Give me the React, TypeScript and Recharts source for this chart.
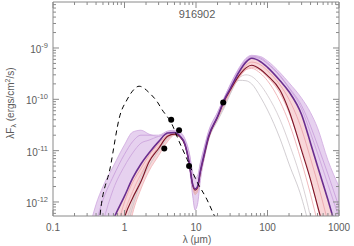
import { ComposedChart, Line, Area, Scatter, XAxis, YAxis } from "recharts"

// model wavelength grid (micron)
const lam = [0.3, 0.4, 0.5, 0.7, 1.0, 1.3, 1.7, 2.2, 3.0, 4.0, 5.0, 6.0, 7.0, 8.0, 9.0, 9.7, 10.5, 11.5, 13, 15, 20, 25, 30, 40, 50, 60, 80, 100, 150, 200, 300, 400, 500, 700, 1000]

// best fit model
const best = [1e-14, 3e-14, 1e-13, 4.5e-13, 1.3e-12, 2.9e-12, 5.5e-12, 9e-12, 1.5e-11, 2.2e-11, 2.25e-11, 1.9e-11, 1.35e-11, 6e-12, 2.2e-12, 1.8e-12, 2e-12, 4e-12, 8.5e-12, 1.9e-11, 4.6e-11, 1.0e-10, 1.6e-10, 3.4e-10, 5.3e-10, 6.3e-10, 5.4e-10, 4.2e-10, 2.3e-10, 1.4e-10, 5e-11, 1.4e-11, 5e-12, 1.1e-12, 2e-13]
const red = [1e-14, 1e-14, 1e-14, 5e-14, 5e-13, 1.2e-12, 2.5e-12, 6e-12, 1.1e-11, 1.9e-11, 2.1e-11, 1.85e-11, 1.3e-11, 5.8e-12, 2.1e-12, 1.7e-12, 1.9e-12, 3.8e-12, 8e-12, 1.8e-11, 4.5e-11, 9.5e-11, 1.5e-10, 2.9e-10, 4.1e-10, 4.6e-10, 3.8e-10, 2.9e-10, 1.5e-10, 6e-11, 1.0e-11, 2.7e-12, 8.5e-13, 1.5e-13, 2e-14]

// other fits
const up = [2e-13, 9e-13, 2e-12, 5e-12, 1.3e-11, 2.3e-11, 2.5e-11, 2.1e-11, 1.9e-11, 2.3e-11, 2.4e-11, 2.2e-11, 1.6e-11, 9e-12, 3.5e-12, 2.8e-12, 3e-12, 5.5e-12, 1.1e-11, 2.3e-11, 5.5e-11, 1.1e-10, 1.9e-10, 4.1e-10, 6.3e-10, 7.2e-10, 6.8e-10, 5.6e-10, 3.3e-10, 2.1e-10, 1.05e-10, 5.5e-11, 2.8e-11, 6.5e-12, 2e-12]
const lav2 = [1e-13, 4e-13, 1.1e-12, 3.2e-12, 8.5e-12, 1.5e-11, 2e-11, 2e-11, 2e-11, 2.4e-11, 2.5e-11, 2.3e-11, 1.7e-11, 9.5e-12, 3.8e-12, 3e-12, 3.2e-12, 5.8e-12, 1.15e-11, 2.4e-11, 5.6e-11, 1.1e-10, 1.9e-10, 3.9e-10, 6e-10, 6.9e-10, 6.4e-10, 5.1e-10, 2.9e-10, 1.7e-10, 7.5e-11, 3e-11, 1.3e-11, 3.5e-12, 8e-13]
const lav3 = [3e-14, 1.2e-13, 4e-13, 1.8e-12, 5e-12, 9e-12, 1.4e-11, 1.6e-11, 1.9e-11, 2.1e-11, 2.2e-11, 1.9e-11, 1.3e-11, 5.5e-12, 1.3e-12, 7e-13, 9e-13, 2.6e-12, 7e-12, 1.7e-11, 4.3e-11, 9e-11, 1.6e-10, 3.5e-10, 5.6e-10, 6.6e-10, 6.1e-10, 4.9e-10, 2.8e-10, 1.65e-10, 6.5e-11, 2.2e-11, 9e-12, 2.2e-12, 5e-13]
const pink1 = [1e-14, 1e-14, 2e-14, 1.5e-13, 1e-12, 2.4e-12, 4.5e-12, 8e-12, 1.35e-11, 2e-11, 2.2e-11, 1.9e-11, 1.35e-11, 6.5e-12, 2.3e-12, 1.7e-12, 1.9e-12, 4e-12, 8.5e-12, 1.9e-11, 4.5e-11, 9e-11, 1.5e-10, 3e-10, 4.6e-10, 5.3e-10, 4.7e-10, 3.6e-10, 1.9e-10, 1e-10, 2.6e-11, 7e-12, 2.4e-12, 4e-13, 5e-14]
const pink2 = [1e-14, 1e-14, 1e-14, 5e-14, 6e-13, 1.6e-12, 3.5e-12, 6.5e-12, 1.2e-11, 1.8e-11, 2.1e-11, 1.85e-11, 1.3e-11, 6.2e-12, 2.2e-12, 1.5e-12, 1.7e-12, 3.6e-12, 7.8e-12, 1.75e-11, 4.2e-11, 8e-11, 1.4e-10, 2.8e-10, 3.8e-10, 4e-10, 3.2e-10, 2.3e-10, 9e-11, 3.5e-11, 6e-12, 1.4e-12, 4e-13, 5e-14, 1e-14]
const low = [1e-14, 1e-14, 1e-14, 1e-14, 1e-13, 6e-13, 1.8e-12, 4e-12, 8e-12, 1.5e-11, 2e-11, 1.8e-11, 1.3e-11, 6e-12, 2e-12, 1.4e-12, 1.6e-12, 3.5e-12, 7.5e-12, 1.7e-11, 4.2e-11, 8.5e-11, 1.4e-10, 2.6e-10, 3.8e-10, 4.2e-10, 3.6e-10, 2.7e-10, 1.3e-10, 5.5e-11, 1.1e-11, 2.8e-12, 8e-13, 1.2e-13, 1e-14]
const gray1 = [1e-14, 1e-14, 1e-14, 1e-14, 2e-13, 8e-13, 2.5e-12, 5e-12, 1e-11, 1.7e-11, 2e-11, 1.8e-11, 1.25e-11, 6e-12, 2e-12, 1.4e-12, 1.6e-12, 3.4e-12, 7e-12, 1.6e-11, 3.8e-11, 7e-11, 1.25e-10, 2.35e-10, 2.3e-10, 2e-10, 1.1e-10, 6.2e-11, 1.7e-11, 5.5e-12, 1.2e-12, 2.5e-13, 5e-14, 1e-14, 1e-14]
const gray2 = [1e-14, 1e-14, 1e-14, 2e-14, 3e-13, 1e-12, 3e-12, 6e-12, 1.1e-11, 1.8e-11, 2.1e-11, 1.85e-11, 1.3e-11, 6.2e-12, 2.1e-12, 1.5e-12, 1.7e-12, 3.5e-12, 7.4e-12, 1.7e-11, 4e-11, 7.5e-11, 1.3e-10, 2.6e-10, 3e-10, 2.8e-10, 1.9e-10, 1.2e-10, 4e-11, 1.4e-11, 2.5e-12, 5e-13, 1e-13, 1e-14, 1e-14]

// stellar photosphere
const photoLam = [0.43, 0.454, 0.63, 0.865, 1.08, 1.27, 1.6, 2.27, 2.94, 3.3, 4.6, 5.6, 7.5, 10.3, 14.3, 17, 20]
const photoFlux = [2.5e-13, 5.4e-13, 4.6e-12, 4.9e-11, 9.7e-11, 1.4e-10, 1.8e-10, 1.3e-10, 8.5e-11, 6.5e-11, 3.3e-11, 1.7e-11, 6.8e-12, 2.5e-12, 1.1e-12, 6.5e-13, 4e-13]

// observed fluxes
const obsLam = [3.6, 4.5, 5.8, 8.0, 24]
const obsFlux = [1.1e-11, 4.0e-11, 2.5e-11, 5.0e-12, 8.7e-11]

const xMajor = [0.1, 1, 10, 100, 1000]
const xLabels = ["0.1", "1", "10", "100", "1000"]
const yMajor = [1e-12, 1e-11, 1e-10, 1e-9]
const yExp = ["-12", "-11", "-10", "-9"]
const title = "916902"

const X_DOMAIN = [0.1, 1000]
const Y_DOMAIN = [5.33e-13, 7.87e-9]

const AXIS = "#8a8a8a"
const TEXT = "#5c5c5c"
const FONT = "'Liberation Sans', Arial, sans-serif"

const minors = (decades: number[], lo: number, hi: number) =>
  decades.flatMap((d) => [2, 3, 4, 5, 6, 7, 8, 9].map((k) => k * d)).filter((v) => v > lo && v < hi)

const xTicks = [...xMajor, ...minors([0.1, 1, 10, 100], 0.1, 1000)].sort((a, b) => a - b)
const yTicks = [...yMajor, ...minors([1e-13, 1e-12, 1e-11, 1e-10, 1e-9], Y_DOMAIN[0], Y_DOMAIN[1])].sort((a, b) => a - b)

const idx = (arr: number[], v: number) => arr.findIndex((m) => Math.abs(m - v) / m < 1e-6)

const rows = lam.map((l, i) => ({
  lam: l,
  best: best[i],
  red: red[i],
  up: up[i],
  lav2: lav2[i],
  lav3: lav3[i],
  pink1: pink1[i],
  pink2: pink2[i],
  low: low[i],
  gray1: gray1[i],
  gray2: gray2[i],
}))
const photo = photoLam.map((l, i) => ({ lam: l, flux: photoFlux[i] }))
const obs = obsLam.map((l, i) => ({ lam: l, flux: obsFlux[i] }))

function BottomTick({ x, y, payload }: any) {
  const i = idx(xMajor, payload.value)
  return (
    <g>
      <line x1={x} x2={x} y1={y} y2={y - (i >= 0 ? 6 : 3)} stroke={AXIS} />
      {i >= 0 && (
        <text x={x} y={y + 14.5} textAnchor="middle" fontSize={10} fill={TEXT} fontFamily={FONT}>
          {xLabels[i]}
        </text>
      )}
    </g>
  )
}

function TopTick({ x, y, payload }: any) {
  const major = idx(xMajor, payload.value) >= 0
  return <line x1={x} x2={x} y1={y} y2={y + (major ? 6 : 3)} stroke={AXIS} />
}

function LeftTick({ x, y, payload }: any) {
  const i = idx(yMajor, payload.value)
  return (
    <g>
      <line x1={x} x2={x + (i >= 0 ? 6 : 3)} y1={y} y2={y} stroke={AXIS} />
      {i >= 0 && (
        <text x={x - 5} y={y + 5} textAnchor="end" fontSize={10} fill={TEXT} fontFamily={FONT}>
          10
          <tspan dy={-5} fontSize={7.5}>
            {yExp[i]}
          </tspan>
        </text>
      )}
    </g>
  )
}

function RightTick({ x, y, payload }: any) {
  const major = idx(yMajor, payload.value) >= 0
  return <line x1={x} x2={x - (major ? 6 : 3)} y1={y} y2={y} stroke={AXIS} />
}

export default function App() {
  return (
    <div style={{ position: "absolute", left: 0, top: 0, width: 354, height: 246, background: "#fff" }}>
      <ComposedChart width={354} height={246} data={rows} margin={{ top: 1, right: 14, bottom: 0, left: 0 }}>
        <XAxis
          dataKey="lam"
          type="number"
          scale="log"
          domain={X_DOMAIN}
          allowDataOverflow
          ticks={xTicks}
          interval={0}
          tick={<BottomTick />}
          tickLine={false}
          tickSize={0}
          tickMargin={0}
          height={30}
          axisLine={{ stroke: AXIS }}
        />
        <XAxis
          xAxisId="top"
          orientation="top"
          dataKey="lam"
          type="number"
          scale="log"
          domain={X_DOMAIN}
          allowDataOverflow
          ticks={xTicks}
          interval={0}
          tick={<TopTick />}
          tickLine={false}
          tickSize={0}
          tickMargin={0}
          height={1}
          axisLine={{ stroke: AXIS }}
        />
        <YAxis
          type="number"
          scale="log"
          domain={Y_DOMAIN}
          allowDataOverflow
          ticks={yTicks}
          interval={0}
          tick={<LeftTick />}
          tickLine={false}
          tickSize={0}
          tickMargin={0}
          width={53}
          axisLine={{ stroke: AXIS }}
        />
        <YAxis
          yAxisId="right"
          orientation="right"
          type="number"
          scale="log"
          domain={Y_DOMAIN}
          allowDataOverflow
          ticks={yTicks}
          interval={0}
          tick={<RightTick />}
          tickLine={false}
          tickSize={0}
          tickMargin={0}
          width={1}
          axisLine={{ stroke: AXIS }}
        />

        {/* invisible series so the mirrored top/right axes get drawn */}
        <Line
          xAxisId="top"
          yAxisId="right"
          dataKey="best"
          stroke="none"
          strokeOpacity={0}
          dot={false}
          activeDot={false}
          isAnimationActive={false}
        />

        <Area
          type="monotone"
          dataKey={(d: any) => [Math.min(d.best, d.lav3), d.up]}
          fill="#d6b3e4"
          fillOpacity={0.6}
          stroke="none"
          dot={false}
          activeDot={false}
          isAnimationActive={false}
        />
        <Area
          type="monotone"
          dataKey={(d: any) => [d.low, d.best]}
          fill="#f4bcbf"
          fillOpacity={0.6}
          stroke="none"
          dot={false}
          activeDot={false}
          isAnimationActive={false}
        />

        <Line type="monotone" dataKey="gray1" stroke="#c6c2c6" strokeWidth={0.8} dot={false} isAnimationActive={false} />
        <Line type="monotone" dataKey="gray2" stroke="#cfc6cc" strokeWidth={0.8} dot={false} isAnimationActive={false} />
        <Line type="monotone" dataKey="low" stroke="#f0b0b4" strokeWidth={0.8} dot={false} isAnimationActive={false} />
        <Line type="monotone" dataKey="pink2" stroke="#eda7ab" strokeWidth={0.8} dot={false} isAnimationActive={false} />
        <Line type="monotone" dataKey="pink1" stroke="#eaa0a6" strokeWidth={0.8} dot={false} isAnimationActive={false} />
        <Line type="monotone" dataKey="lav3" stroke="#c9a0da" strokeWidth={0.8} dot={false} isAnimationActive={false} />
        <Line type="monotone" dataKey="lav2" stroke="#c79bd9" strokeWidth={0.8} dot={false} isAnimationActive={false} />
        <Line type="monotone" dataKey="up" stroke="#cfa8df" strokeWidth={0.8} dot={false} isAnimationActive={false} />
        <Line type="monotone" dataKey="red" stroke="#7d1426" strokeWidth={1.1} dot={false} isAnimationActive={false} />
        <Line type="monotone" dataKey="best" stroke="#6a2d8f" strokeWidth={1.6} dot={false} isAnimationActive={false} />

        <Line
          data={photo}
          type="monotone"
          dataKey="flux"
          stroke="#000"
          strokeWidth={1}
          strokeDasharray="5 4"
          dot={false}
          isAnimationActive={false}
        />
        <Scatter
          data={obs}
          dataKey="flux"
          fill="#000"
          isAnimationActive={false}
          shape={(p: any) => <circle cx={p.cx} cy={p.cy} r={3} fill="#000" />}
        />
      </ComposedChart>

      <svg width={354} height={246} style={{ position: "absolute", left: 0, top: 0, pointerEvents: "none" }}>
        <text x={197} y={18} textAnchor="middle" fontSize={11} fill={TEXT} fontFamily={FONT}>
          {title}
        </text>
        <text x={197} y={242.5} textAnchor="middle" fontSize={10} fill={TEXT} fontFamily={FONT}>
          λ (μm)
        </text>
        <text transform="rotate(-90 14 103)" x={14} y={103} textAnchor="middle" fontSize={10} fill={TEXT} fontFamily={FONT}>
          λF
          <tspan dy={2} fontSize={7}>λ</tspan>
          <tspan dy={-2}> (ergs/cm</tspan>
          <tspan dy={-4} fontSize={7}>2</tspan>
          <tspan dy={4}>/s)</tspan>
        </text>
      </svg>
    </div>
  )
}
